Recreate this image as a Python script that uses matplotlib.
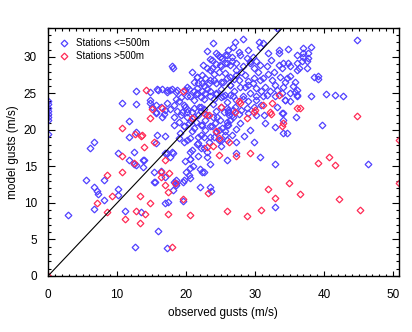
import matplotlib
matplotlib.use("Agg")
import matplotlib.pyplot as plt
import numpy as np
from matplotlib.ticker import MultipleLocator

plt.rcParams['font.family'] = ['Liberation Sans', 'DejaVu Sans']

# Observed vs modelled gusts (m/s), stations at or below 500 m
low_stations = [
    (0, 24.0), (0, 23.5), (0, 23.0), (0, 22.6), (0, 22.2), (0, 21.8), (0, 21.4), (0, 19.4),
    (2.9, 8.4), (5.5, 13.1), (6.6, 12.2), (7.1, 11.6), (7.2, 11.2), (6.6, 9.2), (8.1, 10.4), (8.1, 13.2),
    (6.6, 18.4), (6.1, 17.5),
    (10.2, 11.9), (10.2, 11.1), (11.2, 8.9), (10.2, 16.8), (11.8, 15.9), (12.4, 15.3), (12.7, 15.2),
    (13.7, 14.9), (13.7, 15.9), (12.4, 17.0),
    (13.5, 8.7), (12.6, 4.0), (15.5, 12.9), (16.4, 14.4), (16.9, 16.9), (18.1, 16.8), (16.9, 10.0),
    (17.4, 10.2), (15.9, 6.1), (17.3, 3.8),
    (18.1, 11.8), (18.6, 12.8), (18.5, 13.1), (19.5, 10.3), (19.5, 12.9), (20.6, 13.4), (21.0, 15.0),
    (20.0, 14.3), (20.5, 16.0), (22.0, 12.2), (22.0, 14.6), (22.6, 14.2), (23.5, 15.4), (23.6, 11.7), (26.0, 15.9),
    (12.8, 25.4), (10.7, 23.7), (12.7, 23.5), (11.8, 21.2), (12.8, 19.7), (11.8, 19.0),
    (15.9, 25.5), (17.3, 25.5), (17.7, 25.5), (18.7, 25.5), (18.0, 28.7), (18.1, 28.5), (23.0, 30.8),
    (14.8, 24.1), (14.8, 23.7), (15.1, 23.2), (15.6, 22.3), (16.5, 21.8),
    (23.5, 29.7), (24.6, 30.2), (25.2, 29.8), (25.9, 30.2), (23.1, 28.5), (23.8, 28.5), (24.3, 29.0),
    (25.0, 28.7), (25.7, 29.1), (21.6, 27.3), (22.3, 27.5), (22.8, 27.1), (21.1, 26.6), (21.7, 26.4),
    (23.3, 26.4), (24.0, 26.8), (25.0, 26.6), (25.9, 27.1),
    (14.8, 25.2), (15.8, 25.6), (16.5, 25.6), (17.3, 25.2), (18.0, 25.6), (18.5, 25.2),
    (20.4, 25.6), (21.1, 25.3), (21.6, 25.7), (22.3, 25.4), (23.1, 25.6),
    (20.6, 24.6), (21.4, 24.9), (22.1, 24.5), (22.8, 25.0), (23.5, 24.7), (24.3, 24.9), (25.0, 24.5), (25.7, 24.8),
    (15.6, 23.4), (16.3, 23.2), (17.3, 23.7), (18.2, 23.4), (19.0, 23.9), (19.7, 23.4),
    (17.0, 22.7), (17.7, 22.9), (18.7, 22.6), (19.4, 22.4), (20.2, 22.8), (21.1, 23.0), (21.9, 23.2), (22.6, 22.9),
    (33.1, 33.9), (28.2, 32.5), (27.1, 32.1), (30.5, 32.1), (31.1, 31.9), (30.7, 31.4), (26.1, 31.0),
    (26.8, 31.4), (27.6, 30.7), (26.6, 30.0), (27.8, 30.3), (28.8, 29.8), (29.7, 30.0), (30.2, 29.4),
    (33.4, 31.0), (34.8, 31.1), (37.0, 31.2), (37.6, 30.6), (33.4, 28.9), (33.9, 28.5), (34.8, 29.1),
    (36.0, 29.2), (36.8, 29.5), (37.6, 29.8), (36.3, 28.5), (37.5, 28.5), (38.6, 27.3),
    (26.4, 28.9), (27.3, 29.1), (28.3, 28.7), (29.3, 29.4), (29.8, 28.5), (30.7, 28.9), (31.7, 28.7), (32.7, 28.0),
    (27.3, 27.5), (28.5, 27.5), (29.8, 27.1), (31.2, 27.1), (32.4, 26.8), (33.6, 27.3), (34.6, 27.1),
    (26.4, 26.2), (27.8, 25.9), (29.0, 26.2), (30.2, 25.7), (31.4, 25.9), (32.9, 26.2), (34.1, 25.9),
    (35.8, 25.2), (36.0, 24.8),
    (26.8, 24.6), (28.3, 24.3), (30.2, 24.6), (31.7, 24.8), (32.9, 24.6), (34.3, 24.1), (35.1, 23.9),
    (25.9, 23.0), (26.8, 22.7), (28.8, 23.0), (29.8, 23.2),
    (44.7, 32.3), (38.1, 31.4), (37.0, 30.5), (36.0, 30.3), (37.0, 30.0), (33.4, 30.5), (37.5, 29.4),
    (36.0, 28.2), (35.1, 28.7), (34.1, 29.1),
    (39.1, 27.4), (39.1, 27.0), (35.1, 27.4), (34.4, 26.6), (35.8, 26.6), (33.1, 25.5), (33.9, 25.1),
    (35.0, 25.0), (36.0, 25.5), (36.0, 24.7), (38.1, 24.7), (40.2, 24.9), (41.6, 24.8), (42.7, 24.7),
    (34.4, 24.1), (35.9, 21.8), (34.0, 22.3), (34.0, 21.4), (34.0, 19.6), (34.6, 19.6), (32.9, 20.4),
    (31.4, 21.0), (39.7, 20.7), (46.3, 15.4), (32.9, 15.4), (30.7, 16.3), (29.8, 18.4), (29.3, 20.0),
    (31.3, 22.1), (30.2, 22.1), (27.8, 20.9), (27.3, 18.4), (25.9, 18.6), (24.7, 18.6), (27.3, 16.9),
    (26.1, 22.5), (26.6, 22.1), (26.4, 21.4), (26.1, 20.7), (33.9, 22.3), (32.9, 9.4),
    (15.8, 19.3), (16.9, 19.2), (15.6, 18.2), (13.9, 15.9), (17.3, 16.8), (18.0, 17.0), (17.7, 16.3),
    (15.3, 14.3), (15.3, 12.9), (16.9, 13.6), (18.2, 12.9), (18.5, 12.5), (19.7, 13.2), (20.4, 13.8),
    (20.6, 14.8), (22.3, 14.3), (20.6, 16.0), (23.5, 12.2),
    (19.7, 18.4), (20.6, 18.9), (21.8, 18.2), (22.6, 19.1), (23.3, 18.4), (24.0, 19.1), (25.0, 18.6), (25.7, 19.3),
    (20.9, 17.3), (22.1, 17.5), (23.1, 17.0),
    (18.2, 20.7), (19.0, 21.1), (19.7, 20.5), (20.4, 20.9), (21.1, 20.2), (22.1, 20.7), (22.8, 20.0),
    (23.5, 20.5), (24.3, 19.7), (25.2, 20.2), (26.0, 20.7),
    (15.6, 22.4), (16.8, 22.2), (18.2, 21.8), (19.2, 22.0), (20.2, 22.4), (21.1, 21.8), (22.1, 22.6),
    (23.1, 22.0), (24.5, 21.8), (25.5, 22.4), (26.2, 22.0),
    (23.9, 31.9), (24.4, 30.5), (23.7, 29.6), (24.9, 30.0), (25.6, 30.3), (24.9, 28.9), (25.9, 29.1),
    (26.6, 29.4), (23.5, 28.2), (24.7, 28.0), (25.6, 27.8), (26.4, 27.3), (27.3, 28.2), (29.3, 29.1),
    (23.5, 26.8), (24.4, 26.4), (25.4, 26.6), (26.4, 26.2), (27.6, 26.8), (28.5, 25.9), (29.7, 26.4),
    (30.7, 26.8), (23.5, 25.3), (24.4, 25.0), (25.4, 24.6), (26.4, 24.8), (27.3, 24.1), (28.3, 24.6),
    (29.3, 25.0), (30.2, 24.1), (31.2, 24.6), (23.9, 23.6), (25.1, 23.2), (26.1, 22.7), (27.1, 23.2),
    (28.0, 22.7), (29.0, 22.3), (23.9, 21.8), (24.9, 21.4), (25.9, 21.1), (26.8, 21.8),
    (23.7, 20.5), (24.7, 20.0), (25.6, 19.8), (26.6, 19.3), (23.5, 19.1),
    (20.9, 28.0), (21.6, 27.3), (22.3, 26.4), (20.2, 25.9), (19.9, 25.5), (21.6, 25.0), (22.6, 24.3),
    (20.2, 24.6), (21.1, 24.1), (22.1, 23.2), (19.9, 23.2), (20.9, 22.5), (21.8, 22.0), (20.2, 21.8),
    (21.4, 21.1), (22.3, 20.7), (19.7, 20.5), (20.9, 19.8), (22.1, 19.3), (20.2, 18.6), (21.6, 18.1),
    (22.6, 17.5), (20.6, 17.0), (21.8, 16.4), (19.9, 15.7),
    (22.4, 28.9), (24.1, 27.6), (26.9, 27.0), (28.0, 28.0), (30.4, 27.9), (31.9, 27.7), (32.3, 29.6),
    (28.9, 26.7), (30.9, 25.4), (27.0, 25.4), (25.1, 25.6), (22.6, 26.0), (19.3, 24.5), (18.6, 24.2),
    (24.0, 24.2), (26.0, 23.8), (28.9, 24.0), (30.8, 23.4), (27.6, 22.2), (24.4, 22.6), (22.8, 21.4),
    (20.7, 21.2), (19.1, 19.6), (21.7, 19.0), (24.2, 20.9), (27.2, 20.1), (28.4, 19.2), (25.0, 17.8),
    (23.0, 16.3), (19.0, 18.9), (33.1, 23.2), (32.1, 25.3), (35.5, 26.0), (29.0, 31.0), (31.8, 30.5),
]

# Observed vs modelled gusts (m/s), stations above 500 m
high_stations = [
    (0, 0),
    (14.2, 25.5), (19.5, 25.3), (10.7, 20.2), (12.6, 19.4), (13.4, 19.2), (13.9, 17.7), (15.1, 22.8), (16.5, 23.0),
    (25.1, 23.1), (22.8, 22.2), (33.4, 24.8), (27.8, 23.7), (31.2, 23.4), (32.4, 23.7), (36.0, 23.0),
    (36.5, 23.0), (27.1, 22.5), (29.8, 22.5), (32.2, 22.5),
    (44.8, 21.9), (34.0, 21.0), (33.9, 20.5), (50.8, 18.6), (39.1, 15.5), (40.7, 16.3), (41.6, 15.2),
    (29.3, 16.8), (32.3, 22.2), (30.0, 22.7), (28.8, 21.6), (27.7, 23.9), (26.2, 18.4), (24.7, 16.6), (23.9, 17.8),
    (14.8, 21.6), (13.6, 19.3), (15.3, 18.4), (16.9, 15.9), (16.3, 14.3), (17.5, 14.1), (16.9, 12.5),
    (18.4, 12.7), (23.1, 17.7), (24.8, 18.9), (20.9, 21.6), (23.3, 22.1), (24.3, 19.8), (27.2, 16.4),
    (50.9, 12.8), (34.9, 12.8), (31.9, 11.9), (32.9, 10.7), (36.5, 11.2), (42.2, 10.6), (45.2, 9.1),
    (25.9, 8.9), (28.8, 8.2), (30.8, 9.1),
    (7.1, 10.0), (8.6, 13.8), (8.6, 8.7), (9.2, 10.9), (10.7, 14.3), (11.2, 7.8), (10.7, 16.4), (12.4, 15.5),
    (13.3, 11.0), (12.7, 8.9), (14.0, 8.5), (13.3, 7.3), (14.8, 10.0), (16.4, 13.6), (17.4, 11.5),
    (17.4, 8.5), (17.9, 4.0), (19.5, 10.6), (20.5, 8.4), (23.2, 11.3),
]

series_labels = ["Stations <=500m", "Stations >500m"]
x_range = (0, 50.8)
y_range = (0, 34)

blue = '#5040ff'
red = '#ff2a55'

low = np.array(low_stations)
high = np.array(high_stations)

fig = plt.figure(figsize=(4.12, 3.32), dpi=100)
ax = fig.add_axes([48 / 412, 56 / 332, 350.7 / 412, 248.3 / 332])

ax.plot(low[:, 0], low[:, 1], ls='none', marker='D', ms=3.4, mfc='none',
        mec=blue, mew=0.9, label=series_labels[0])
ax.plot(high[:, 0], high[:, 1], ls='none', marker='D', ms=3.4, mfc='none',
        mec=red, mew=0.9, label=series_labels[1])

# one-to-one reference line
ax.plot([0, 60], [0, 60], color='black', lw=0.8)

ax.set_xlim(*x_range)
ax.set_ylim(*y_range)

ax.xaxis.set_major_locator(MultipleLocator(10))
ax.xaxis.set_minor_locator(MultipleLocator(1))
ax.yaxis.set_major_locator(MultipleLocator(5))
ax.yaxis.set_minor_locator(MultipleLocator(1))

ax.tick_params(axis='both', which='both', direction='in', top=True, right=True,
               labelsize=8.5, colors='black', width=0.8)
ax.tick_params(axis='x', which='major', length=3.6, pad=9)
ax.tick_params(axis='x', which='minor', length=1.8)
ax.tick_params(axis='y', which='major', length=5.0, pad=8)
ax.tick_params(axis='y', which='minor', length=2.5)
for sp in ax.spines.values():
    sp.set_linewidth(1.0)

ax.set_xlabel('observed gusts (m/s)', fontsize=8.5, labelpad=5)
ax.set_ylabel('model gusts (m/s)', fontsize=8.5, labelpad=3)

ax.legend(loc='upper left', bbox_to_anchor=(0.012, 0.985), frameon=False,
          fontsize=7, handlelength=1.0, handletextpad=0.7, labelspacing=0.3,
          borderaxespad=0.3, numpoints=1)

fig.savefig('out.png', dpi=100)
